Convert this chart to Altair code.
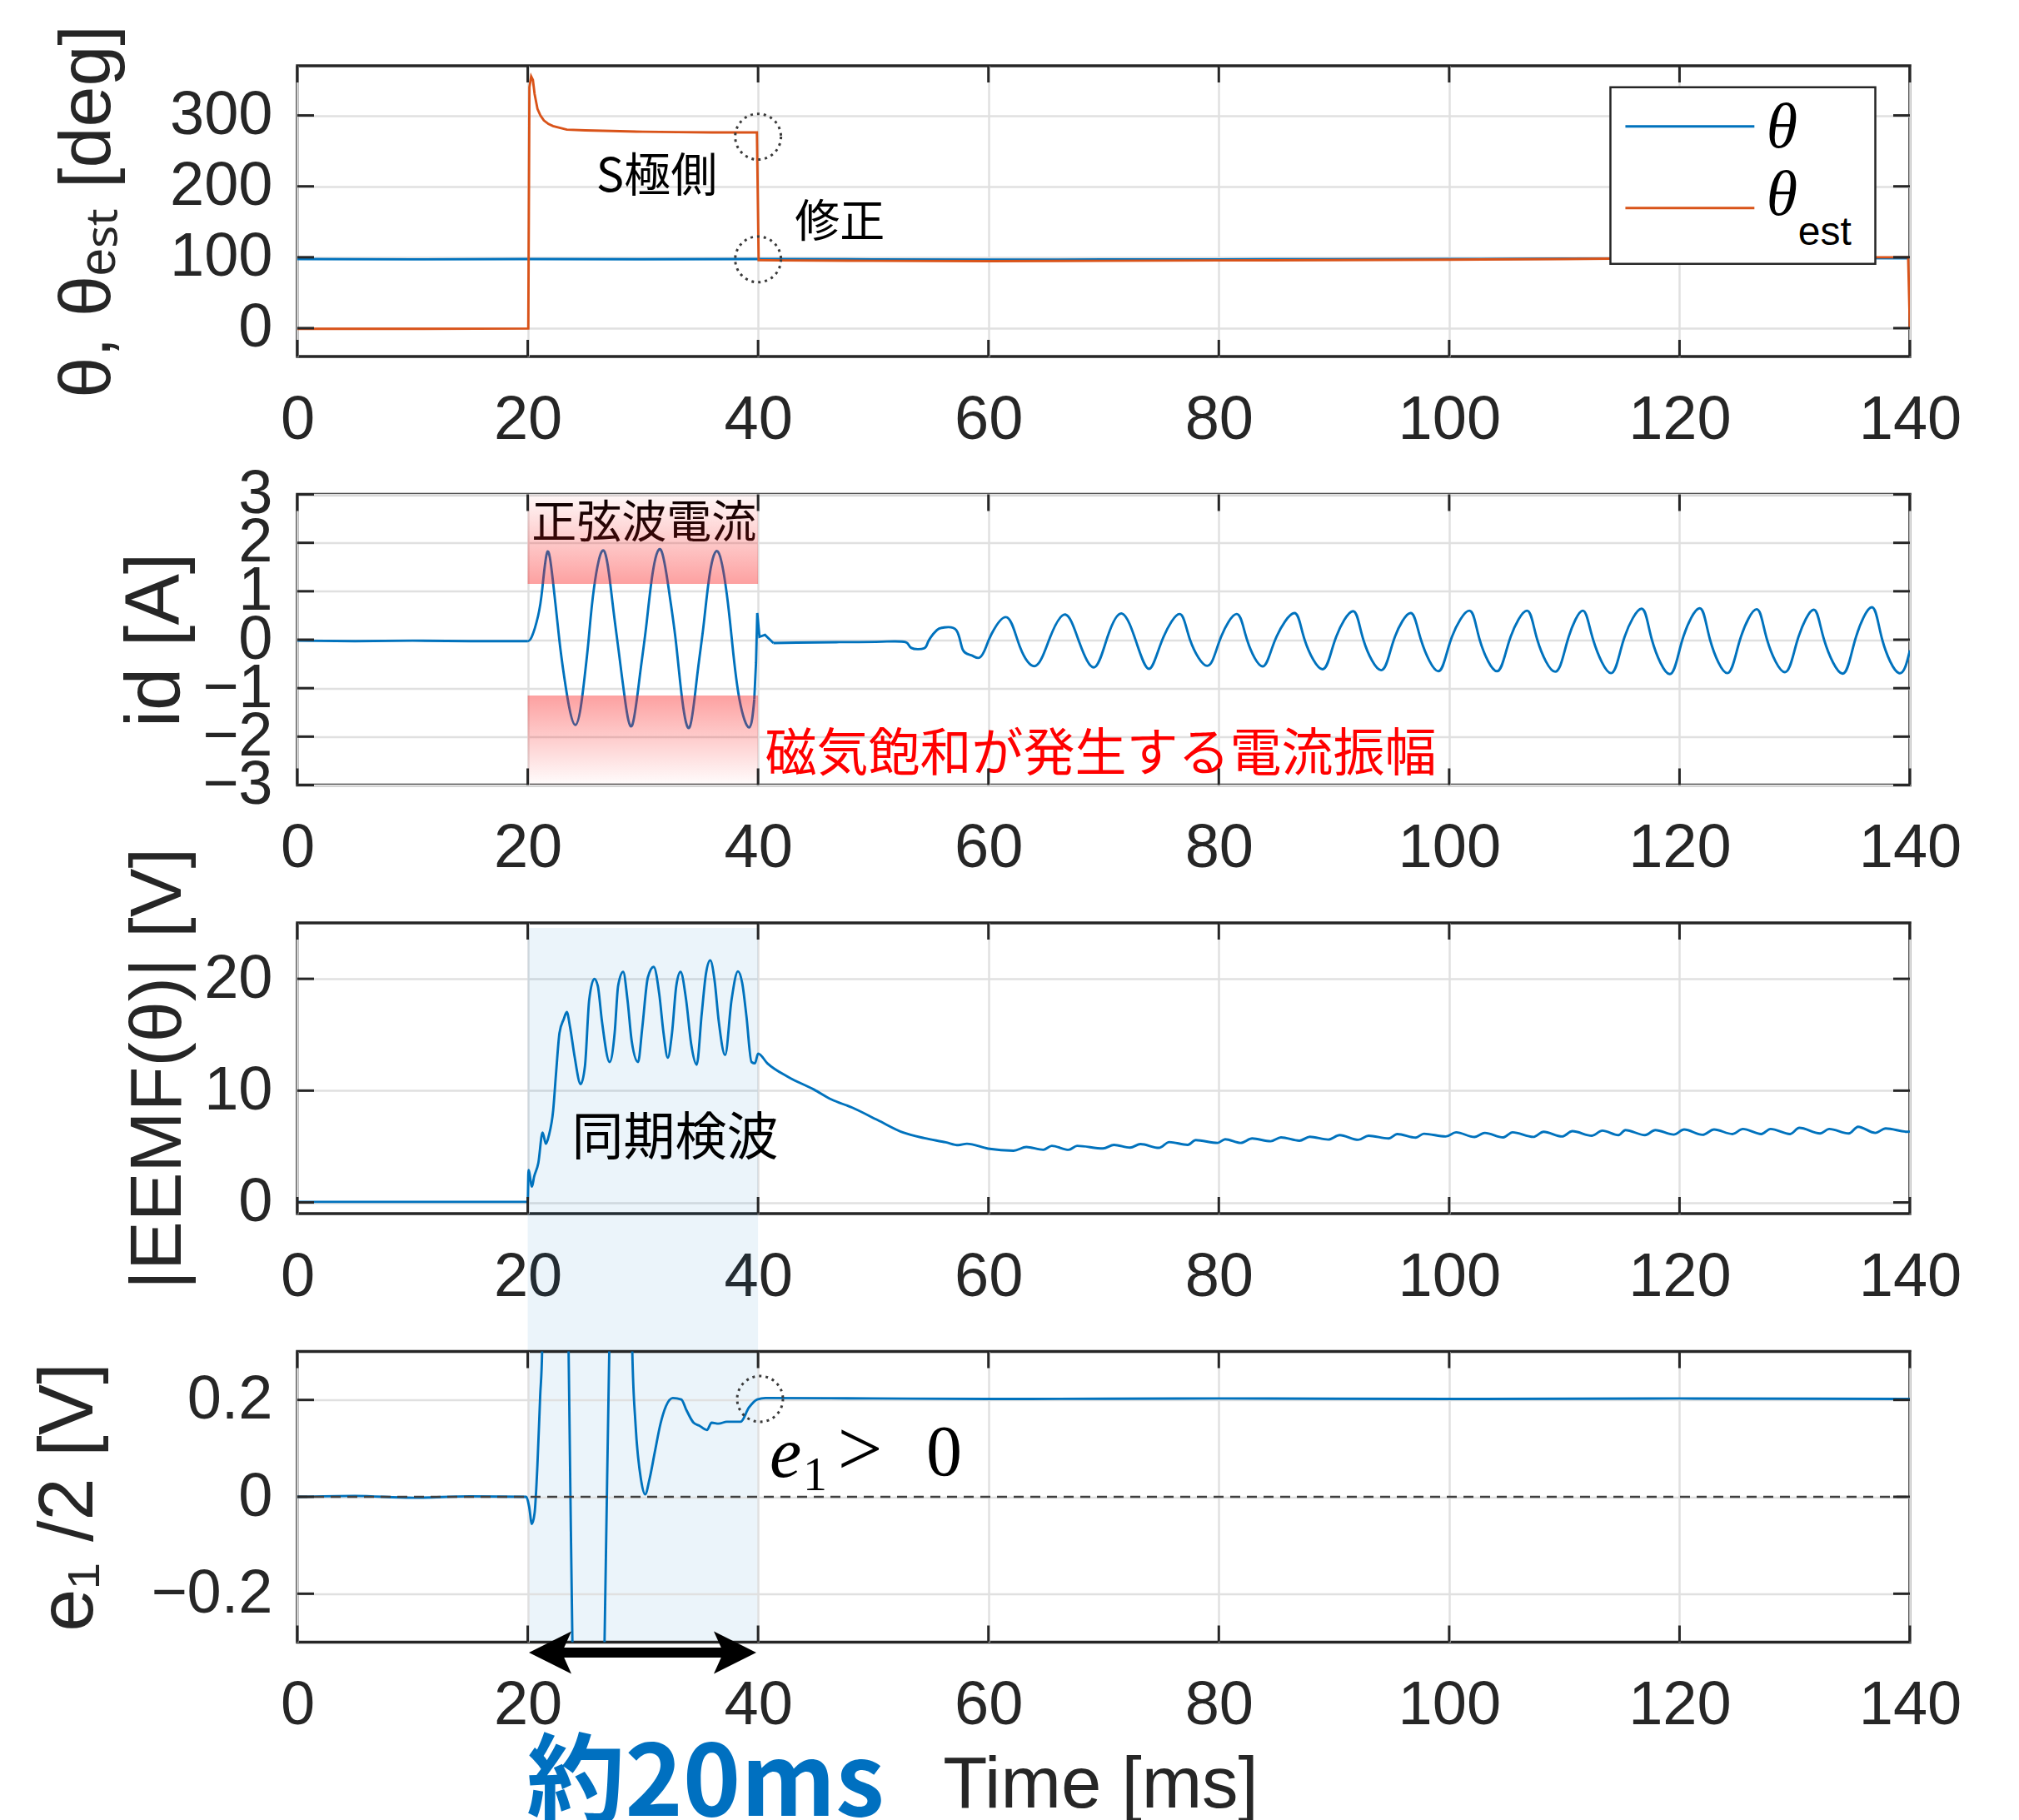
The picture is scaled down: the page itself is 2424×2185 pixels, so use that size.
import altair as alt
import pandas as pd

W = 1936
H = 349
GAP = 165.5

BLUE = "#0072BD"
ORANGE = "#D95319"
INK = "#262626"
CJK = "Noto Sans CJK JP"

x_ticks = [0, 20, 40, 60, 80, 100, 120, 140]

# ---------------- panel 1 : theta / theta_est [deg] ----------------
theta_t = [0, 10, 20, 30, 40, 50, 60, 70, 80, 90, 100, 110, 120, 130, 139.9]
theta_v = [97.5, 97.0, 97.5, 97.2, 97.4, 97.0, 96.5, 96.8, 97.0, 97.3, 97.5, 98.0, 98.5, 98.8, 98.6]

est_t = [0, 10, 20.05, 20.15, 20.3, 20.45, 20.6, 20.85, 21.1, 21.4, 21.8, 22.2, 23.4, 25, 27.3,
         30, 33, 36, 39.9, 40.05, 42, 50, 60, 70, 80, 90, 100, 110, 120, 130, 139.85, 140]
est_v = [-1, -1, -0.5, 340, 355, 350, 330, 309, 300, 293, 288, 285, 280, 279, 278,
         277, 276.5, 276, 276, 96, 95.5, 95, 94.5, 95, 95.5, 96, 96.5, 97.5, 99, 100, 100, 0]

# ---------------- panel 2 : id [A] ----------------
id_t = [0, 5, 10, 15, 19.97, 20.35, 20.9, 21.27, 21.7, 22.18, 22.73, 23.17, 24.13, 24.94, 25.3,
        25.75, 26.6, 27.33, 27.88, 28.44, 29.06, 29.72, 30.28, 30.83, 31.57, 32.3, 32.86, 33.41,
        34.07, 34.7, 35.25, 35.8, 36.54, 37.28, 37.76, 38.38, 39.23, 39.67, 39.82, 39.93, 40.12,
        40.6, 41.33, 43.36, 47.04, 50.73, 52.8, 53.31, 54.4, 54.79, 55.53, 56.08, 57.2, 57.76,
        58.5, 59.23, 59.79, 60.34, 61.63, 62.74, 64.1, 65.32, 66.68, 67.9, 69.19, 70.3, 71.59,
        72.88, 73.98, 75.1, 76.6, 77.5, 79.0, 80.1, 81.55, 82.45, 83.8, 84.9, 86.55, 87.45,
        89.0, 90.1, 91.65, 92.55, 94.1, 95.2, 96.65, 97.55, 99.05, 100.15, 101.75, 102.65,
        104.15, 105.25, 106.75, 107.65, 109.2, 110.3, 111.6, 112.5, 114.05, 115.15, 116.7,
        117.6, 119.15, 120.25, 121.75, 122.65, 124.15, 125.25, 126.7, 127.6, 129.15, 130.25,
        131.65, 132.55, 134.15, 135.25, 136.7, 137.6, 139.05, 140.0]
id_v = [-0.02, -0.03, -0.02, -0.03, -0.03, 0.06, 0.49, 1.06, 1.81, 1.23, 0.03, -0.77, -1.76, -0.77, 0.03,
        1.06, 1.84, 0.83, -0.2, -1.23, -1.77, -0.77, 0.26, 1.35, 1.85, 0.95, -0.03, -1.23,
        -1.8, -0.77, 0.26, 1.35, 1.81, 0.95, -0.08, -1.23, -1.81, -1.23, -0.48, 0.55, 0.06,
        0.1, -0.07, -0.06, -0.05, -0.04, -0.05, -0.17, -0.18, -0.03, 0.2, 0.25, 0.2, -0.2,
        -0.32, -0.37, -0.15, 0.15, 0.46, -0.15, -0.54, 0.03, 0.52, -0.06, -0.57, 0.03, 0.54,
        -0.08, -0.6, 0.0, 0.53, 0.0, -0.54, 0.0, 0.53, 0.0, -0.55, 0.0, 0.55, 0.0,
        -0.61, 0.0, 0.59, 0.0, -0.63, 0.0, 0.55, 0.0, -0.65, 0.0, 0.6, 0.0,
        -0.65, 0.0, 0.6, 0.0, -0.66, 0.0, 0.6, 0.0, -0.69, 0.0, 0.64,
        0.0, -0.71, 0.0, 0.65, 0.0, -0.69, 0.0, 0.63, 0.0, -0.67, 0.0,
        0.62, 0.0, -0.7, 0.0, 0.67, 0.0, -0.69, -0.22]

# ---------------- panel 3 : |EEMF(theta)| [V] ----------------
emf_t = [0, 10, 19.95, 20.0, 20.07, 20.37, 20.55, 20.92, 21.29, 21.58, 21.84, 22.21, 22.47, 22.76,
         23.13, 23.39, 23.68, 24.05, 24.6, 24.97, 25.34, 25.78, 26.08, 26.45, 27.11, 27.55, 27.85,
         28.29, 28.66, 29.03, 29.58, 29.95, 30.43, 30.94, 31.42, 31.79, 32.16, 32.53, 32.9, 33.27,
         33.75, 34.19, 34.67, 35.11, 35.48, 35.85, 36.22, 36.59, 37.14, 37.7, 38.25, 38.62, 38.99,
         39.43, 39.73, 40.0, 40.81, 42.65, 44.86, 46.34, 48.18, 50.39, 52.6, 54.44, 56.29, 57.39,
         58.13, 59.97, 62.18, 63.29, 64.76, 65.5, 66.97, 67.7, 69.95, 70.9, 72.3, 73.2, 74.8,
         75.7, 77.3, 78.0, 79.9, 80.55, 81.9, 82.9, 84.5, 85.4, 87.0, 87.9, 89.5, 90.5, 92.1,
         93.0, 94.75, 95.5, 97.1, 97.8, 99.7, 100.6, 102.2, 103.1, 104.7, 105.5, 107.3, 108.2,
         109.8, 110.7, 112.4, 113.3, 114.7, 115.3, 117.0, 117.9, 119.5, 120.4, 122.0, 123.0,
         124.6, 125.5, 127.1, 127.9, 129.6, 130.4, 132.2, 133.0, 134.7, 135.5, 137.0, 137.9,
         139.8, 140.0]
emf_v = [0.05, 0.05, 0.05, 0.1, 2.9, 1.41, 2.28, 3.52, 6.25, 5.25, 6.0, 8.23, 11.7, 15.17,
         16.4, 17.03, 15.66, 13.18, 10.58, 12.19, 18.14, 20.0, 19.38, 16.16, 12.56, 15.17, 19.38,
         20.62, 18.14, 14.42, 12.56, 15.66, 20.12, 21.07, 18.64, 15.17, 12.94, 15.17, 19.38, 20.62,
         18.14, 14.18, 12.32, 16.9, 20.5, 21.66, 19.88, 16.16, 13.18, 18.14, 20.67, 19.63, 16.65,
         12.56, 12.44, 13.31, 12.44, 11.2, 10.09, 9.22, 8.48, 7.36, 6.25, 5.75, 5.38, 5.13,
         5.25, 4.81, 4.63, 4.96, 4.71, 5.06, 4.71, 5.06, 4.83, 5.15, 4.9, 5.22, 4.88,
         5.4, 5.15, 5.57, 5.32, 5.65, 5.32, 5.72, 5.47, 5.82, 5.52, 5.87, 5.62, 6.02, 5.6,
         5.97, 5.72, 6.12, 5.8, 6.14, 5.9, 6.27, 5.85, 6.22, 5.82, 6.27, 5.86, 6.32,
         5.9, 6.37, 5.97, 6.42, 6.02, 6.47, 6.02, 6.47, 6.07, 6.52, 6.05, 6.52,
         6.12, 6.57, 6.12, 6.57, 6.12, 6.67, 6.17, 6.57, 6.17, 6.77, 6.22, 6.62,
         6.32, 6.35]

# ---------------- panel 4 : e1/2 [V] ----------------
e_t = [0, 5, 10, 15, 19.88, 20.12, 20.36, 20.6, 20.84, 21.08, 21.25, 21.5, 22.4, 23.3, 23.55, 23.88,
       24.3, 25.3, 26.3, 26.67, 27.08, 27.5, 28.2, 28.8, 29.08, 29.36, 29.84, 30.2, 30.56, 31.04,
       31.52, 32.0, 32.6, 33.33, 33.8, 34.4, 34.89, 35.56, 35.97, 36.57, 37.29, 38.49, 39.2,
       39.93, 40.65, 50, 60, 80, 100, 120, 140]
e_v = [0.0, 0.002, -0.002, 0.001, 0.0, -0.02, -0.056, -0.033, 0.064, 0.207, 0.3, 1.0, 2.0, 1.0, 0.3, -0.3,
       -1.2, -2.0, -1.2, -0.3, 0.3, 1.2, 2.0, 1.2, 0.3, 0.15, 0.035, 0.005, 0.035, 0.093,
       0.15, 0.187, 0.204, 0.201, 0.178, 0.153, 0.147, 0.138, 0.153, 0.151, 0.155, 0.155, 0.184,
       0.201, 0.204, 0.203, 0.202, 0.203, 0.202, 0.203, 0.202]

YT_SIZE = 92
LW = 2.9


def make_enc(ydom, yvals, ytitle, ytitle_x, xtitle=None, ytsize=YT_SIZE):
    xa = dict(values=x_ticks, grid=True, ticks=False, domain=False, labelFlush=False,
              labelPadding=40, labelOverlap=False)
    if xtitle:
        xa.update(title=xtitle, titleX=W / 2 - 4, titleY=198, titleBaseline="alphabetic",
                  titleAlign="center", titleFontSize=87, titleLimit=2000)
    else:
        xa.update(title=None)
    ya = dict(values=yvals, grid=True, ticks=False, domain=False, labelPadding=30,
              labelOverlap=False, labelFlush=False, format="~f", title=ytitle, titleX=ytitle_x,
              titleY=H / 2, titleAngle=270, titleAlign="center", titleBaseline="alphabetic",
              titleFontSize=ytsize, titleLimit=2000)

    def X():
        return alt.X("t:Q", scale=alt.Scale(domain=[0, 140], nice=False, zero=False),
                     axis=alt.Axis(**xa))

    def Y():
        return alt.Y("v:Q", scale=alt.Scale(domain=ydom, nice=False, zero=False),
                     axis=alt.Axis(**ya))
    return X, Y


def inner_ticks(X, Y, yvals):
    xt = pd.DataFrame({"t": x_ticks})
    yt = pd.DataFrame({"v": yvals})
    st = dict(color=INK, strokeWidth=3)
    return [
        alt.Chart(xt).mark_rule(**st).encode(x=X(), y=alt.value(H), y2=alt.value(H - 20)),
        alt.Chart(xt).mark_rule(**st).encode(x=X(), y=alt.value(0), y2=alt.value(20)),
        alt.Chart(yt).mark_rule(**st).encode(y=Y(), x=alt.value(0), x2=alt.value(20)),
        alt.Chart(yt).mark_rule(**st).encode(y=Y(), x=alt.value(W - 20), x2=alt.value(W)),
    ]


def text_layer(X, Y, t, v, label, **kw):
    d = pd.DataFrame({"t": [t], "v": [v], "label": [label]})
    return alt.Chart(d).mark_text(**kw).encode(x=X(), y=Y(), text="label:N")


def line_layer(X, Y, ts, vs, color, interp):
    d = pd.DataFrame({"t": ts, "v": vs})
    return alt.Chart(d).mark_line(color=color, strokeWidth=LW, clip=True,
                                  interpolate=interp).encode(x=X(), y=Y())


def seg_layer(X, Y, ts, vs, ranges, color, interp):
    rows = []
    for k, (a, b) in enumerate(ranges):
        for t, v in zip(ts, vs):
            if a <= t <= b:
                rows.append({"t": t, "v": v, "seg": k})
    d = pd.DataFrame(rows)
    return alt.Chart(d).mark_line(color=color, strokeWidth=LW, clip=True,
                                  interpolate=interp).encode(x=X(), y=Y(), detail="seg:N")


# ---------- panel 1 ----------
y1 = [0, 100, 200, 300]
X1, Y1 = make_enc([-40, 370], y1, "θ, θₑₛₜ [deg]", -226, ytsize=88)
circ1 = pd.DataFrame({"t": [40, 40], "v": [270, 97]})
leg_box = pd.DataFrame({"t": [114.0], "t2": [137.0], "v": [339.7], "v2": [90.8]})
leg_lines = pd.DataFrame({"t": [115.3, 115.3], "t2": [126.5, 126.5], "v": [284.6, 169.5],
                          "s": ["θ", "θest"]})
p1 = alt.layer(
    line_layer(X1, Y1, theta_t, theta_v, BLUE, "linear"),
    line_layer(X1, Y1, est_t, est_v, ORANGE, "linear"),
    text_layer(X1, Y1, 31.2, 213, "S極側", font=CJK, fontSize=56, color="black"),
    text_layer(X1, Y1, 47.1, 147, "修正", font=CJK, fontSize=54, color="black"),
    alt.Chart(circ1).mark_point(shape="circle", size=3019, filled=False, stroke="#3a3a3a",
                                strokeWidth=3, strokeDash=[3, 5], opacity=1).encode(x=X1(), y=Y1()),
    alt.Chart(leg_box).mark_rect(fill="white", stroke=INK, strokeWidth=2.5).encode(
        x=X1(), x2="t2:Q", y=Y1(), y2="v2:Q"),
    alt.Chart(leg_lines).mark_rule(strokeWidth=3).encode(
        x=X1(), x2="t2:Q", y=Y1(),
        color=alt.Color("s:N", scale=alt.Scale(domain=["θ", "θest"], range=[BLUE, ORANGE]),
                        legend=None)),
    text_layer(X1, Y1, 128.9, 282, "θ", font="Liberation Serif", fontStyle="italic",
               fontSize=76, color="black"),
    text_layer(X1, Y1, 128.9, 187, "θ", font="Liberation Serif", fontStyle="italic",
               fontSize=76, color="black"),
    text_layer(X1, Y1, 130.3, 134, "est", font="Liberation Sans", fontSize=48, color="black",
               align="left"),
    *inner_ticks(X1, Y1, y1),
).properties(width=W, height=H)

# ---------- panel 2 ----------
y2 = [-3, -2, -1, 0, 1, 2, 3]
X2, Y2 = make_enc([-3, 3], y2, "id [A]", -143)
top_rect = pd.DataFrame({"t": [20], "t2": [40], "v": [3], "v2": [1.15]})
bot_rect = pd.DataFrame({"t": [20], "t2": [40], "v": [-1.15], "v2": [-3]})
grad_top = alt.LinearGradient(gradient="linear", x1=0, x2=0, y1=0, y2=1, stops=[
    alt.GradientStop(color="rgba(250,30,30,0.03)", offset=0),
    alt.GradientStop(color="rgba(250,30,30,0.42)", offset=1)])
grad_bot = alt.LinearGradient(gradient="linear", x1=0, x2=0, y1=0, y2=1, stops=[
    alt.GradientStop(color="rgba(250,30,30,0.42)", offset=0),
    alt.GradientStop(color="rgba(250,30,30,0.01)", offset=1)])
p2 = alt.layer(
    seg_layer(X2, Y2, id_t, id_v, [(0, 19.97), (39.67, 41.33)], BLUE, "linear"),
    seg_layer(X2, Y2, id_t, id_v, [(19.97, 39.67), (41.33, 140)], BLUE, "natural"),
    text_layer(X2, Y2, 30.1, 2.37, "正弦波電流", font=CJK, fontSize=54, color="black"),
    alt.Chart(top_rect).mark_rect(fill=grad_top).encode(x=X2(), x2="t2:Q", y=Y2(), y2="v2:Q"),
    alt.Chart(bot_rect).mark_rect(fill=grad_bot).encode(x=X2(), x2="t2:Q", y=Y2(), y2="v2:Q"),
    text_layer(X2, Y2, 40.6, -2.39, "磁気飽和が発生する電流振幅", font=CJK, fontSize=62,
               color="#FF0000", align="left"),
    *inner_ticks(X2, Y2, y2),
).properties(width=W, height=H)

# ---------- panel 3 ----------
y3 = [0, 10, 20]
X3, Y3 = make_enc([-1, 25], y3, "|EEMF(θ)| [V]", -141, ytsize=88)
shade = pd.DataFrame({"t": [20], "t2": [40]})
p3 = alt.layer(
    alt.Chart(shade).mark_rect(color=BLUE, opacity=0.08, clip=False).encode(
        x=X3(), x2="t2:Q", y=alt.value(6), y2=alt.value(2 * H + GAP)),
    line_layer(X3, Y3, emf_t, emf_v, BLUE, "monotone"),
    text_layer(X3, Y3, 32.8, 5.63, "同期検波", font=CJK, fontSize=62, color="black"),
    *inner_ticks(X3, Y3, y3),
).properties(width=W, height=H)

# ---------- panel 4 ----------
y4 = [-0.2, 0, 0.2]
X4, Y4 = make_enc([-0.3, 0.3], y4, "e₁ /2 [V]", -247, xtitle="Time [ms]")
zero_line = pd.DataFrame({"t": [0], "t2": [140], "v": [0]})
circ4 = pd.DataFrame({"t": [40.17], "v": [0.202]})
shaft = pd.DataFrame({"t": [21.5], "t2": [38.5], "v": [-0.3213]})
head_l = pd.DataFrame({"t": [21.95], "v": [-0.3213]})
head_r = pd.DataFrame({"t": [38.0], "v": [-0.3213]})
p4 = alt.layer(
    line_layer(X4, Y4, e_t, e_v, BLUE, "monotone"),
    alt.Chart(zero_line).mark_rule(color="#404040", strokeWidth=2.5, strokeDash=[12, 8]).encode(
        x=X4(), x2="t2:Q", y=Y4()),
    alt.Chart(circ4).mark_point(shape="circle", size=3019, filled=False, stroke="#3a3a3a",
                                strokeWidth=3, strokeDash=[3, 5], opacity=1).encode(x=X4(), y=Y4()),
    text_layer(X4, Y4, 41.0, 0.041, "e", font="Liberation Serif", fontStyle="italic",
               fontSize=86, color="black", align="left", baseline="alphabetic"),
    text_layer(X4, Y4, 43.9, 0.014, "1", font="Liberation Serif", fontSize=58, color="black",
               align="left", baseline="alphabetic"),
    text_layer(X4, Y4, 46.9, 0.045, ">", font="Liberation Serif", fontSize=96, color="black",
               align="left", baseline="alphabetic"),
    text_layer(X4, Y4, 54.6, 0.045, "0", font="Liberation Serif", fontSize=86, color="black",
               align="left", baseline="alphabetic"),
    alt.Chart(shaft).mark_rule(color="black", strokeWidth=12, clip=False).encode(
        x=X4(), x2="t2:Q", y=Y4()),
    alt.Chart(head_l).mark_point(shape="M-1,0L1,-1L0.55,0L1,1Z", size=2601, filled=True,
                                 color="black", opacity=1, clip=False).encode(x=X4(), y=Y4()),
    alt.Chart(head_r).mark_point(shape="M1,0L-1,-1L-0.55,0L-1,1Z", size=2601, filled=True,
                                 color="black", opacity=1, clip=False).encode(x=X4(), y=Y4()),
    text_layer(X4, Y4, 19.9, -0.658, "約20ms", font=CJK, fontSize=118, fontWeight="bold",
               color="#0070C0", align="left", baseline="alphabetic"),
    *inner_ticks(X4, Y4, y4),
).properties(width=W, height=H)

chart = alt.vconcat(p1, p2, p3, p4, spacing=GAP, bounds="flush").properties(
    padding={"left": 26, "top": 19, "right": 30, "bottom": 5}
).configure_view(
    stroke=INK, strokeWidth=3.5
).configure_axis(
    labelFont="Liberation Sans", labelFontSize=74, labelColor=INK,
    titleFont="Liberation Sans", titleColor=INK, titleFontWeight="normal",
    gridColor="#e0e0e0", gridWidth=2.5, gridOpacity=1
)

chart.save("out.html", embed_options={"renderer": "svg", "actions": False})
